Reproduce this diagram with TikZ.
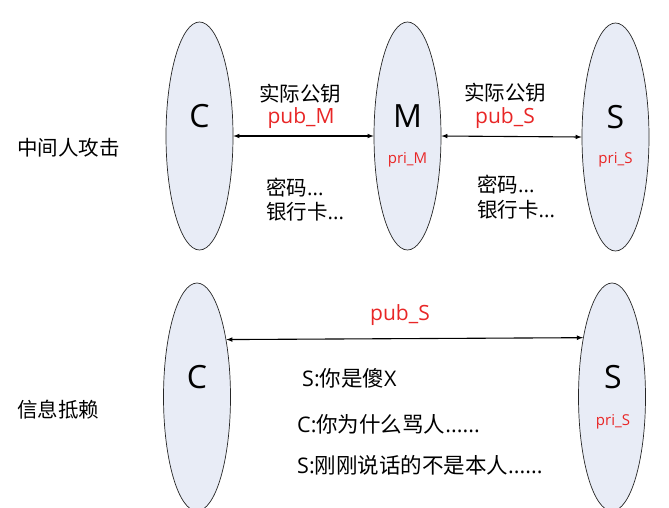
\documentclass[tikz,border=0pt]{standalone}
\usepackage{fontspec}
\setmainfont{Open Sans}
\newfontfamily\cjk{Noto Sans CJK SC}
\usetikzlibrary{arrows, shapes.geometric, positioning}
\definecolor{partyfill}{RGB}{232,236,246}
\definecolor{keyred}{RGB}{232,38,38}
\newcommand{\drawa}{\draw[line width=1.1pt, <->]}

\begin{document}
\begin{tikzpicture}[x=1pt, y=-1pt, >=latex,
  party/.style={ellipse, draw=black!85, line width=0.7pt, fill=partyfill,
    minimum width=67pt, minimum height=228pt, inner sep=0pt},
  who/.style={inner sep=0pt, font=\fontsize{32}{36}\selectfont},
  txt/.style={inner sep=0pt, font=\fontsize{20.5}{24}\selectfont},
  say/.style={inner sep=0pt, anchor=west, font=\fontsize{21.5}{24}\selectfont},
  key/.style={inner sep=0pt, text=keyred, font=\fontsize{21}{24}\selectfont},
  pri/.style={inner sep=0pt, text=keyred, font=\fontsize{15}{18}\selectfont}]
\clip (0,0) rectangle (669,507);
% Trung gian tấn công
\node[party] (c1) at (199.5,136) {};
\node[party] (m1) at (407.5,136) {};
\node[party] (s1) at (615.5,137) {};
\node[who] (c1t) at (199.5,116) {C};
\node[who] (m1t) at (407.5,116) {M};
\node[who] (s1t) at (615.5,117) {S};
\node[pri] (m1p) at (407.5,160) {pri\_M};
\node[pri] (s1p) at (615.5,160) {pri\_S};

\drawa (c1.east) -- (m1.west);
\drawa (m1.east) -- (s1.west);

\node[txt] (real1) at (300,94) {\cjk 实际公钥};
\node[key] (pubm) at (301,118) {pub\_M};
\node[txt, anchor=west] (pw1) at (266,188) {{\cjk 密码}...};
\node[txt, anchor=west] (card1) at (266,212) {{\cjk 银行卡}...};

\node[txt] (real2) at (505,93) {\cjk 实际公钥};
\node[key] (pubs1) at (505,118) {pub\_S};
\node[txt, anchor=west] (pw2) at (477,185) {{\cjk 密码}...};
\node[txt, anchor=west] (card2) at (477,210) {{\cjk 银行卡}...};

\node[txt, anchor=west] (mitm) at (17,148) {\cjk 中间人攻击};

% Thông tin chối bỏ
\node[party] (c2) at (197,397) {};
\node[party] (s2) at (612,397) {};
\node[who] (c2t) at (197,377) {C};
\node[who] (s2t) at (613,377) {S};
\node[pri] (s2p) at (613,422) {pri\_S};

\drawa (c2.63.6) -- (s2.116.4);
\node[key] (pubs2) at (400,315) {pub\_S};

\node[say] (say1) at (302,378) {S:{\cjk 你是傻}X};
\node[say] (say2) at (297,424) {C:{\cjk 你为什么骂人}......};
\node[say] (say3) at (297,465) {S:{\cjk 刚刚说话的不是本人}......};

\node[txt, anchor=west] (deny) at (17,410) {\cjk 信息抵赖};
\end{tikzpicture}
\end{document}
